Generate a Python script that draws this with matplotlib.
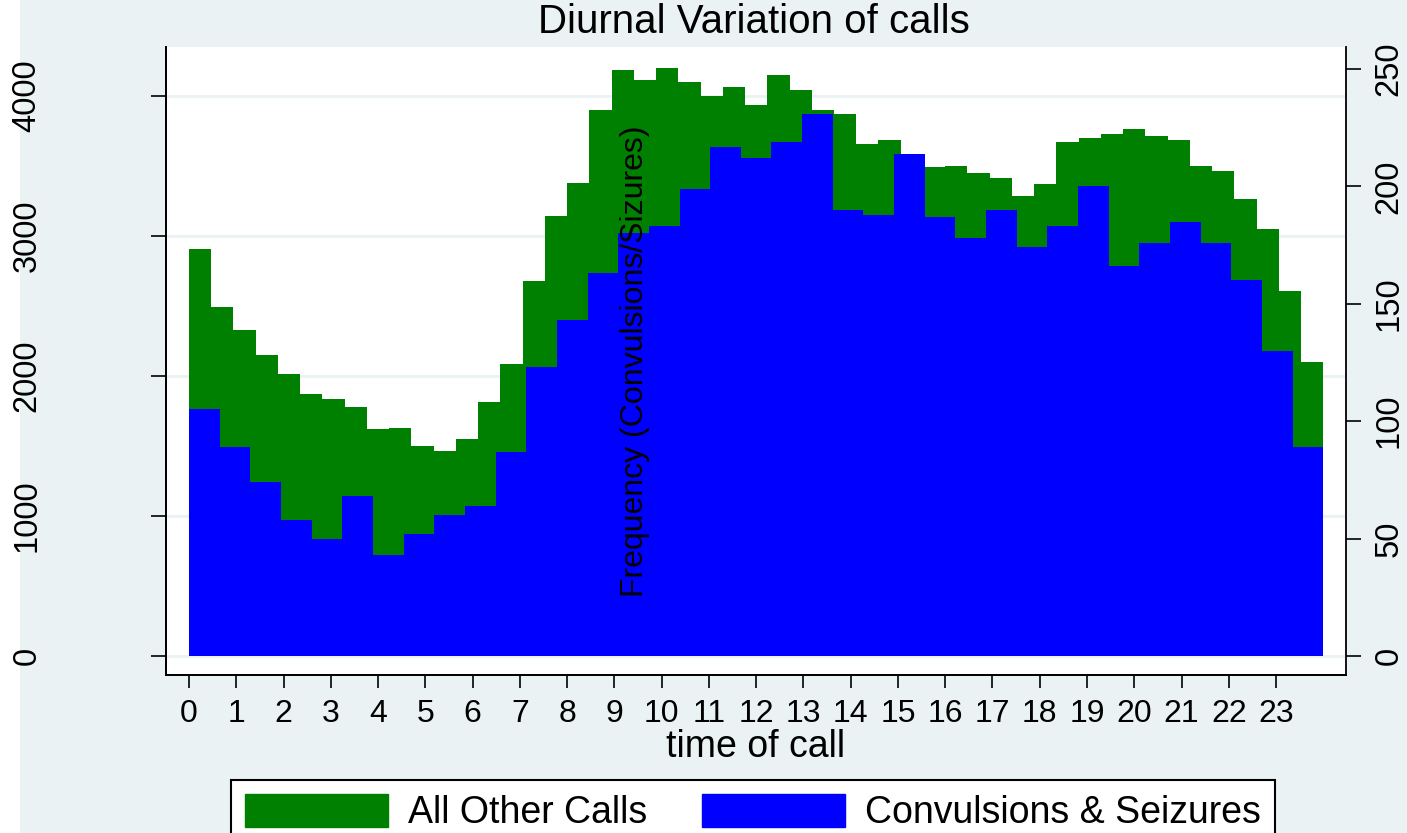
import matplotlib
matplotlib.use("Agg")
import matplotlib.pyplot as plt
import numpy as np
from matplotlib.patches import Patch, Rectangle

plt.rcParams['font.family'] = ['Liberation Sans', 'DejaVu Sans']

# histogram counts (Stata default bins: 51 and 37 bins over 0-24h)
other_calls = [2907, 2491, 2329, 2148, 2014, 1869, 1836, 1781, 1619, 1631,
               1502, 1467, 1550, 1812, 2086, 2679, 3143, 3376, 3902, 4185,
               4113, 4200, 4100, 3998, 4066, 3937, 4152, 4045, 3903, 3872,
               3655, 3686, 3550, 3492, 3503, 3453, 3416, 3287, 3374, 3670,
               3701, 3730, 3767, 3717, 3688, 3501, 3467, 3265, 3048, 2604,
               2101]
seizure_calls = [105, 89, 74, 58, 50, 68, 43, 52, 60, 64,
                 87, 123, 143, 163, 180, 183, 199, 217, 212, 219,
                 231, 190, 188, 214, 187, 178, 190, 174, 183, 200,
                 166, 176, 185, 176, 160, 130, 89]
hours = list(range(24))
left_ticks = [0, 1000, 2000, 3000, 4000]
right_ticks = [0, 50, 100, 150, 200, 250]

GREEN = '#008000'
BLUE = '#0000FF'
BG = '#EAF2F3'

W, H = 1407, 833
fig = plt.figure(figsize=(W / 100, H / 100), dpi=100, facecolor=BG)
fig.add_artist(Rectangle((0, 0), 20 / W, 1, transform=fig.transFigure,
                         facecolor='white', edgecolor='none', zorder=-1))

ax = fig.add_axes([166 / W, 1 - 675 / H, (1346 - 166) / W, (675 - 47) / H])
ax.set_facecolor('white')

edges_g = np.linspace(0, 24, len(other_calls) + 1)
edges_b = np.linspace(0, 24, len(seizure_calls) + 1)
ax.stairs(other_calls, edges_g, fill=True, color=GREEN, zorder=2)

ax2 = ax.twinx()
ax2.set_axisbelow(False)
ax2.stairs(seizure_calls, edges_b, fill=True, color=BLUE, zorder=2)

ax.set_xlim(-0.487, 24.48)
ax.set_ylim(-135.7, 4350)
ax2.set_ylim(-8.09, 259.4)

ax.set_axisbelow(True)
ax.yaxis.grid(True, color=BG, lw=2)

for a in (ax, ax2):
    a.spines['top'].set_visible(False)
    for s in ('left', 'right', 'bottom'):
        a.spines[s].set_linewidth(1.3)
ax.spines['right'].set_visible(False)

ax.set_xticks(hours)
ax.tick_params(axis='x', length=9, width=1.2, labelsize=23, pad=8)
ax.set_yticks(left_ticks)
ax.tick_params(axis='y', length=11, width=1.2, labelsize=23.5, pad=78, labelrotation=90)
for lab in ax.get_yticklabels():
    lab.set_va('center')
ax2.set_yticks(right_ticks)
ax2.tick_params(axis='y', length=11, width=1.2, labelsize=23.5, pad=9, labelrotation=90)
for lab in ax2.get_yticklabels():
    lab.set_va('center')

ax.set_xlabel('time of call', fontsize=27, labelpad=0)
ax2.set_ylabel('Frequency (Convulsions/Sizures)', fontsize=23, va='center', zorder=6)
ax2.yaxis.set_label_coords(0.3975, 0.5)

fig.text(754 / W, 1 - 22 / H, 'Diurnal Variation of calls',
         ha='center', va='center', fontsize=29)

handles = [Patch(facecolor=GREEN, edgecolor=GREEN, label='All Other Calls'),
           Patch(facecolor=BLUE, edgecolor=BLUE, label='Convulsions & Seizures')]
leg = fig.legend(handles=handles, loc='upper left', bbox_to_anchor=(231 / W, 1 - 780 / H),
                 ncol=2, fontsize=27, frameon=True, fancybox=False, edgecolor='black',
                 framealpha=1, handlelength=3.8, handleheight=0.95, handletextpad=0.55,
                 columnspacing=1.45, borderpad=0.38, borderaxespad=0)
leg.get_frame().set_linewidth(1.5)

fig.savefig('out.png', dpi=100, facecolor=BG)
